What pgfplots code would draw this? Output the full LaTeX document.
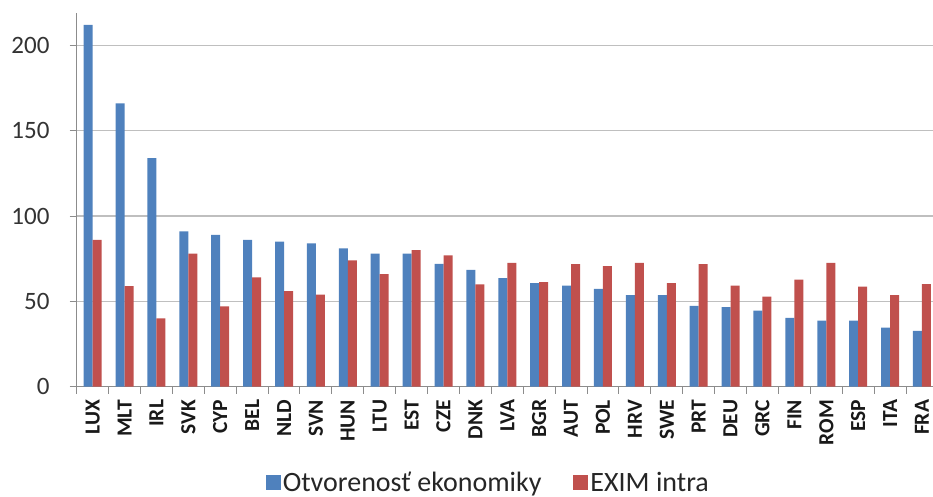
\documentclass[border=0pt]{standalone}
\usepackage{pgfplots}
\pgfplotsset{compat=1.18}
\usepackage{pgfplotstable}
\usepackage{fontspec}
\setmainfont{Carlito}
\definecolor{cblue}{HTML}{4F81BD}
\definecolor{cred}{HTML}{C0504D}
\definecolor{grid}{HTML}{A6A6A6}
\definecolor{axl}{HTML}{8C8C8C}
\pgfplotstableread{
x lab open exim
0 LUX 212 86
1 MLT 166 59
2 IRL 134 40
3 SVK 91 78
4 CYP 89 47
5 BEL 86 64
6 NLD 85 56
7 SVN 84 54
8 HUN 81 74
9 LTU 78 66
10 EST 78 80
11 CZE 72 77
12 DNK 68.5 60
13 LVA 63.6 72.6
14 BGR 60.7 61.3
15 AUT 59.3 71.8
16 POL 57.4 70.7
17 HRV 53.7 72.6
18 SWE 53.7 60.7
19 PRT 47.4 71.8
20 DEU 46.6 59.3
21 GRC 44.6 52.8
22 FIN 40.3 62.8
23 ROM 38.7 72.6
24 ESP 38.7 58.7
25 ITA 34.6 53.7
26 FRA 32.7 60.1
}\datatab
\begin{document}
\begin{tikzpicture}
\begin{axis}[
  at={(76.7pt,110.3pt)}, anchor=south west,
  scale only axis, width=861.2pt, height=373.7pt,
  xmin=-0.5, xmax=26.5, ymin=0, ymax=219,
  ybar=0pt, bar width=9pt,
  axis x line*=bottom, axis y line*=left,
  axis line style={axl, line width=1pt, -},
  xtick={-0.5,0.5,...,26.5},
  xticklabels={},
  extra x ticks={0,...,26},
  extra x tick labels={LUX,MLT,IRL,SVK,CYP,BEL,NLD,SVN,HUN,LTU,EST,CZE,DNK,LVA,BGR,AUT,POL,HRV,SWE,PRT,DEU,GRC,FIN,ROM,ESP,ITA,FRA},
  extra x tick style={major tick length=0pt, tick style={draw=none}, grid=none},
  xmajorgrids=false, xminorgrids=false,
  tick align=outside,
  ytick={0,50,100,150,200},
  major tick length=7pt,
  tick style={axl, line width=1pt},
  ymajorgrids, grid style={grid, line width=1.2pt},
  /pgf/number format/assume math mode=true,
  yticklabel style={font=\fontsize{25}{25}\selectfont, text=black!80, inner sep=0pt, xshift=-20pt},
  xticklabel style={font=\fontsize{21.5}{21.5}\selectfont\bfseries, text=black!90, rotate=90, anchor=east, inner sep=0pt, xshift=-13pt},
  legend columns=2,
  legend style={draw=none, fill=none, at={(0.478,-0.256)}, anchor=center,
    font=\fontsize{28}{28}\selectfont, text=black!85,
    /tikz/every even column/.append style={column sep=30pt},
    /tikz/every odd column/.append style={column sep=0pt}},
  legend image code/.code={\fill[#1] (-2pt,-7.5pt) rectangle (13pt,7.5pt);},
]
\addplot[fill=cblue, draw=none] table[x=x, y=open]{\datatab};
\addplot[fill=cred, draw=none] table[x=x, y=exim]{\datatab};
\legend{Otvorenosť ekonomiky, EXIM intra}
\end{axis}
\pgfresetboundingbox
\useasboundingbox (0,0) rectangle (933pt,497pt);
\end{tikzpicture}
\end{document}
